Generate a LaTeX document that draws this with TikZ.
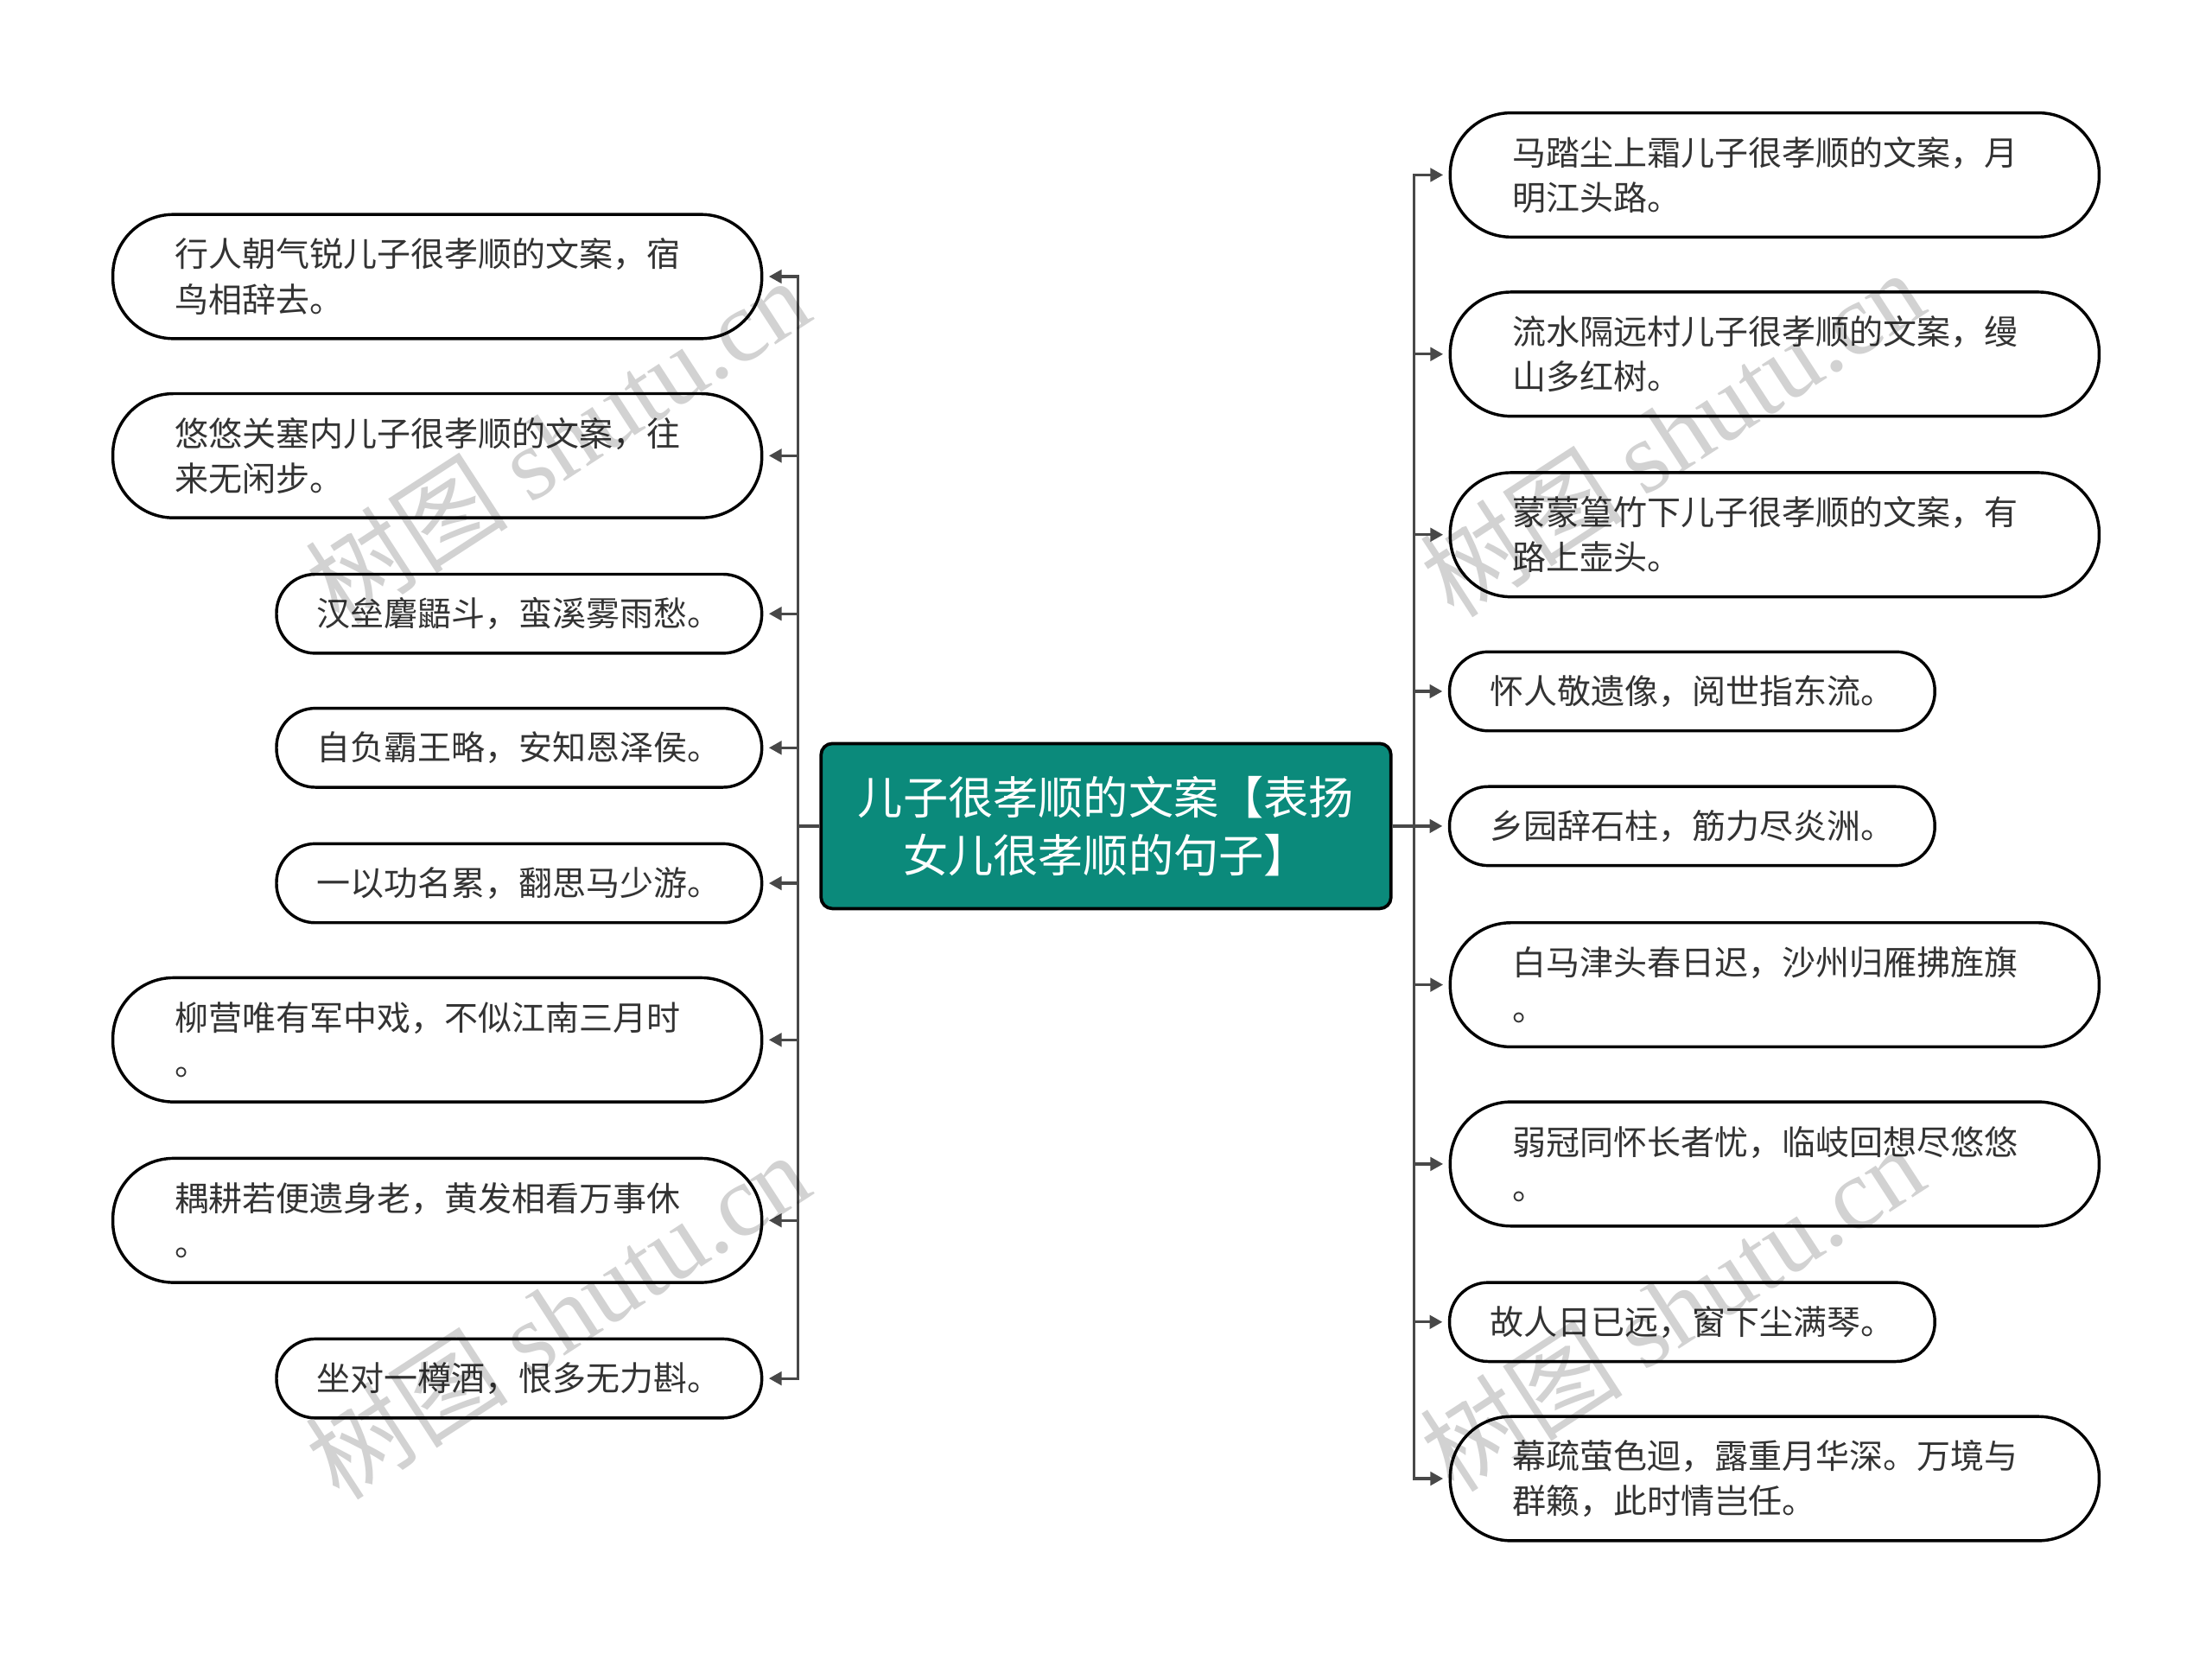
\documentclass[tikz,border=0pt]{standalone}
\usepackage{fontspec}
\setmainfont{Noto Sans CJK SC}
\newfontfamily\wmfont{Liberation Serif}
\usepackage{tikz}
\usetikzlibrary{positioning,arrows.meta}
\definecolor{ink}{HTML}{333333}
\definecolor{linegray}{HTML}{484848}
\definecolor{rootfill}{HTML}{0B8A7B}
\definecolor{wmgray}{HTML}{D2D2D2}
\tikzset{
  leaf/.style={rectangle,draw=black,line width=1.2pt,fill=white,text=ink,inner sep=0pt,font=\fontsize{13.6}{18.2}\selectfont},
  wide/.style={leaf,align=left,text width=74.4mm,minimum width=92mm,minimum height=17.6mm,rounded corners=8.6mm},
  short/.style={leaf,align=center,minimum width=68.8mm,minimum height=11.2mm,rounded corners=5.5mm},
  root/.style={rectangle,draw=black,line width=1.3pt,fill=rootfill,rounded corners=1.6mm,text=white,align=center,minimum width=80.8mm,minimum height=23.4mm,font=\fontsize{18.2}{23.3}\selectfont},
  arrow/.style={-{Triangle[length=1.8mm,width=1.9mm]},draw=linegray,line width=1.1pt,shorten >=0.8mm},
  watermark/.style={text=wmgray,rotate=33,font=\fontsize{41}{41}\selectfont}
}
\begin{document}
\begin{tikzpicture}[x=0.2mm,y=-0.2mm]
  \useasboundingbox (0,0) rectangle (1568,1172);
  \node[root] (root) at (784,585.5) {儿子很孝顺的文案【表扬\\女儿很孝顺的句子】};
  \node[wide] (l1) at (310,196) {行人朝气锐儿子很孝顺的文案，宿\\鸟相辞去。};
  \node[wide] (l2) at (310,323) {悠悠关塞内儿子很孝顺的文案，往\\来无闲步。};
  \node[short] (l3) at (368,435) {汉垒麏鼯斗，蛮溪雾雨愁。};
  \node[short] (l4) at (368,530) {自负霸王略，安知恩泽侯。};
  \node[short] (l5) at (368,626) {一以功名累，翻思马少游。};
  \node[wide] (l6) at (310,737) {柳营唯有军中戏，不似江南三月时\\。};
  \node[wide] (l7) at (310,865) {耦耕若便遗身老，黄发相看万事休\\。};
  \node[short] (l8) at (368,977) {坐对一樽酒，恨多无力斟。};
  \node[wide] (r1) at (1258,124) {马踏尘上霜儿子很孝顺的文案，月\\明江头路。};
  \node[wide] (r2) at (1258,251) {流水隔远村儿子很孝顺的文案，缦\\山多红树。};
  \node[wide] (r3) at (1258,379) {蒙蒙篁竹下儿子很孝顺的文案，有\\路上壶头。};
  \node[short] (r4) at (1199.5,490) {怀人敬遗像，阅世指东流。};
  \node[short] (r5) at (1199.5,585.5) {乡园辞石柱，筋力尽炎洲。};
  \node[wide] (r6) at (1258,698) {白马津头春日迟，沙州归雁拂旌旗\\。};
  \node[wide] (r7) at (1258,825) {弱冠同怀长者忧，临岐回想尽悠悠\\。};
  \node[short] (r8) at (1199.5,937) {故人日已远，窗下尘满琴。};
  \node[wide] (r9) at (1258,1048) {幕疏萤色迴，露重月华深。万境与\\群籁，此时情岂任。};
  \foreach \n in {l1,l2,l3,l4,l5,l6,l7,l8}
    \draw[arrow] (root.west) -- ++(-3mm,0) |- (\n.east);
  \foreach \n in {r1,r2,r3,r4,r5,r6,r7,r8,r9}
    \draw[arrow] (root.east) -- ++(3mm,0) |- (\n.west);
  \begin{scope}[blend mode=multiply]
    \foreach \wx/\wy [count=\i] in {395/312,395/932,1185/307,1185/927}
      \node[watermark] (wm\i) at (\wx,\wy) {树图 {\wmfont shutu.cn}};
  \end{scope}
\end{tikzpicture}
\end{document}
